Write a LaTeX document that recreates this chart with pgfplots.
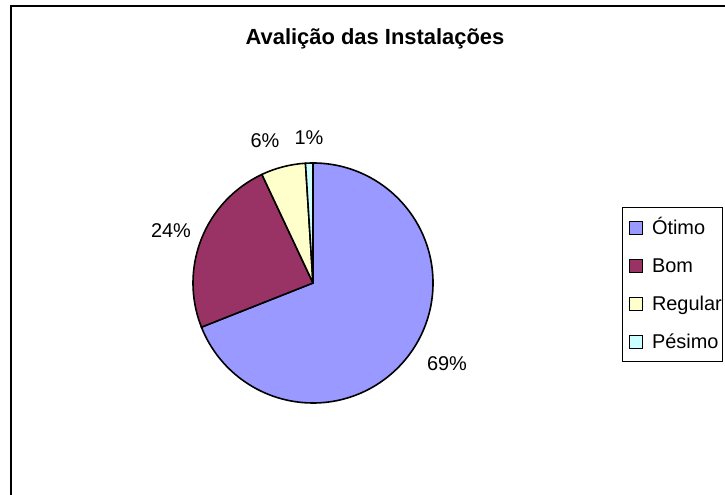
\documentclass[border=0pt]{standalone}
\usepackage{pgfplots}
\pgfplotsset{compat=1.18}
\usepackage{pgfplotstable}
\usepackage{fontspec}
\setmainfont{Liberation Sans}

\definecolor{slice0}{HTML}{9999FF}
\definecolor{slice1}{HTML}{993366}
\definecolor{slice2}{HTML}{FFFFCC}
\definecolor{slice3}{HTML}{CCFFFF}

\pgfplotstableread{
name value
Ótimo 69
Bom 24
Regular 6
Pésimo 1
}\piedata

\begin{document}
\begin{tikzpicture}
\useasboundingbox (0,0) rectangle (725bp,495bp);
\begin{axis}[
  hide axis,
  scale only axis,
  width=725bp, height=495bp,
  xmin=0, xmax=725, ymin=0, ymax=495,
  legend style={
    at={(0.8579,0.5818)}, anchor=north west,
    draw=black, line width=0.7pt,
    font=\fontsize{20}{24}\selectfont,
    inner xsep=1bp, inner ysep=9bp,
    row sep=16bp, column sep=9bp,
    nodes={text height=18bp, text depth=4bp, inner sep=0pt},
  },
  legend cell align=left,
  legend image code/.code={
    \path (0bp,0bp);
    \draw[#1, draw=black, line width=0.7pt] (6bp,-6.5bp) rectangle (19bp,6.5bp);
  },
]
% outer chart frame (cut at right and bottom)
\draw[line width=2bp, black] (axis cs:11,0) -- (axis cs:11,489) -- (axis cs:725,489);

% pie slices, clockwise from 12 o'clock
\def\cum{0}
\pgfplotsforeachungrouped \i in {0,...,3}{%
  \pgfplotstablegetelem{\i}{value}\of\piedata
  \pgfmathsetmacro\va{\pgfplotsretval}
  \pgfmathsetmacro\sa{90-3.6*\cum}
  \pgfmathsetmacro\ea{\sa-3.6*\va}
  \edef\cmd{\noexpand\filldraw[fill=slice\i, draw=black, line width=1.6bp, line join=round]
    (axis cs:313,212) -- ++(\sa:120bp) arc[start angle=\sa, end angle=\ea, radius=120bp] -- cycle;}%
  \cmd
  \pgfmathsetmacro\cum{\cum+\va}
}

% title and data labels
\node[anchor=base, font=\fontsize{22}{26}\selectfont\bfseries] at (axis cs:375,450) {Avalição das Instalações};
\node[anchor=base, font=\fontsize{20}{24}\selectfont] at (axis cs:447,124) {69\%};
\node[anchor=base, font=\fontsize{20}{24}\selectfont] at (axis cs:171,257) {24\%};
\node[anchor=base, font=\fontsize{20}{24}\selectfont] at (axis cs:265,347) {6\%};
\node[anchor=base, font=\fontsize{20}{24}\selectfont] at (axis cs:309,350) {1\%};

\addlegendimage{fill=slice0}\addlegendentry{Ótimo}
\addlegendimage{fill=slice1}\addlegendentry{Bom}
\addlegendimage{fill=slice2}\addlegendentry{Regular}
\addlegendimage{fill=slice3}\addlegendentry{Pésimo}
\end{axis}
\end{tikzpicture}
\end{document}
